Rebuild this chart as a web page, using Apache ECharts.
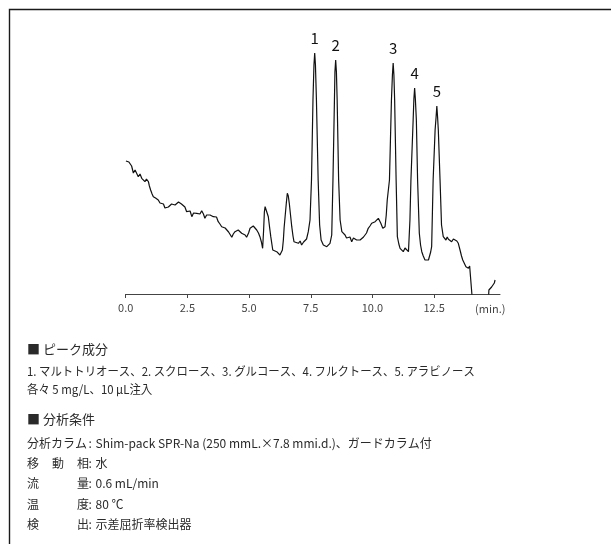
<!DOCTYPE html>
<html>
<head>
<meta charset="utf-8">
<script src="https://cdn.jsdelivr.net/npm/echarts@6/dist/echarts.min.js"></script>
<style>
  html, body { margin: 0; padding: 0; background: #fff; }
  #chart { width: 611px; height: 544px; }
</style>
</head>
<body>
<div id="chart"></div>
<script>
// Retention time (min) of each detector sample
var times = [
  0.01, 0.07, 0.13, 0.17, 0.24, 0.31, 0.38, 0.45, 0.51, 0.58, 0.65, 0.70, 0.78, 0.84, 0.92, 0.96,
  1.01, 1.07, 1.12, 1.21, 1.32, 1.39, 1.46, 1.53, 1.59, 1.66, 1.73, 1.80, 1.86, 1.93, 2.00, 2.07,
  2.14, 2.20, 2.26, 2.33, 2.40, 2.47, 2.55, 2.61, 2.68, 2.75, 2.81, 2.88, 2.95, 3.01, 3.08, 3.15,
  3.21, 3.28, 3.35, 3.42, 3.48, 3.55, 3.62, 3.68, 3.75, 3.82, 3.89, 3.96, 4.03, 4.09, 4.17, 4.23,
  4.30, 4.36, 4.43, 4.50, 4.56, 4.63, 4.70, 4.78, 4.84, 4.90, 4.98, 5.04, 5.10, 5.17, 5.24, 5.31,
  5.38, 5.44, 5.50, 5.55, 5.59, 5.62, 5.65, 5.72, 5.78, 5.83, 5.88, 5.96, 6.03, 6.12, 6.19, 6.25,
  6.32, 6.35, 6.39, 6.42, 6.46, 6.51, 6.55, 6.59, 6.63, 6.68, 6.73, 6.78, 6.82, 6.90, 7.00, 7.07,
  7.13, 7.21, 7.27, 7.33, 7.40, 7.47, 7.53, 7.59, 7.63, 7.66, 7.69, 7.73, 7.80, 7.86, 7.92, 8.01,
  8.08, 8.15, 8.22, 8.28, 8.35, 8.40, 8.46, 8.48, 8.51, 8.54, 8.57, 8.63, 8.69, 8.76, 8.83, 8.89,
  8.95, 9.02, 9.09, 9.16, 9.23, 9.29, 9.36, 9.43, 9.50, 9.57, 9.64, 9.70, 9.76, 9.83, 9.90, 9.97,
  10.04, 10.11, 10.17, 10.24, 10.29, 10.34, 10.42, 10.47, 10.51, 10.56, 10.60, 10.69, 10.77, 10.81, 10.84, 10.87,
  10.90, 10.96, 11.01, 11.07, 11.12, 11.18, 11.25, 11.32, 11.39, 11.46, 11.52, 11.56, 11.65, 11.68, 11.71, 11.74,
  11.78, 11.83, 11.90, 11.95, 12.00, 12.06, 12.13, 12.20, 12.27, 12.31, 12.36, 12.40, 12.46, 12.54, 12.58, 12.61,
  12.64, 12.67, 12.74, 12.80, 12.87, 12.93, 12.98, 13.03, 13.08, 13.15, 13.21, 13.28, 13.35, 13.42, 13.48, 13.55,
  13.61, 13.66, 13.73, 13.79, 13.84, 13.89, 13.94, 13.99, 14.03, 14.06, 14.16, 14.56, 14.70, 14.72, 14.77, 14.83,
  14.90, 14.94, 14.97
];

// RI detector response at each sample (arbitrary units)
var signal = [
  133, 134, 132, 131, 128, 121, 124, 122.3, 117.3, 120, 115.7, 117, 112.3, 115, 112.3, 108,
  104, 100, 97.3, 96, 94, 91, 89, 90, 86, 84.7, 87, 87.3, 90, 91.3, 89, 89.7,
  92, 92.3, 90, 90.7, 87, 82.3, 81, 83, 77.3, 81, 79, 80.7, 82, 80, 83.3, 80,
  75.7, 79, 80.7, 79, 80, 77.3, 76, 77, 72.3, 70, 67.3, 69, 66, 64, 62, 63,
  56.7, 60, 62.3, 61, 64, 62, 60.7, 62, 59, 56.7, 61, 65.7, 64, 68, 67.3, 64,
  61, 57.3, 52, 45.7, 64, 82, 87.3, 89, 77.3, 67, 57.3, 44, 42, 42.3, 41, 39,
  41, 44, 54, 66, 77.3, 91, 100.7, 98, 90.7, 79, 67.3, 58, 52.3, 52, 50.7, 53,
  49, 52, 54, 55, 62.3, 74, 114, 194, 229, 241, 229, 194, 114, 69, 54, 49,
  50, 47.3, 49, 50.7, 59, 114, 194, 222, 234, 222, 194, 114, 74, 62.3, 61, 59,
  56, 54, 57, 52.3, 56, 55.7, 54, 52.3, 54, 54, 57, 57.3, 61, 65.7, 68, 70.7,
  72, 72.3, 74, 75.7, 76, 70.7, 65.7, 67, 67.3, 79, 94, 114, 194, 219, 231, 219,
  194, 114, 57.3, 50, 45.7, 44, 42.3, 46, 44, 42.3, 74, 114, 174, 195, 206, 195,
  174, 114, 60.7, 49, 42.3, 38, 34, 35, 34, 36, 42, 47.3, 114, 164, 177, 188,
  177, 164, 114, 69, 57.3, 56, 54, 57, 54.7, 56, 52.3, 55, 54, 53, 50.7, 44,
  38, 34, 32, 27.3, 29, 25.7, 28, 27.3, 0, -26, -40, -40, -6, 4, 5.7, 7,
  9, 11, 14
];

// Peak numbering and the retention time of each numbered peak
var peakNumbers = ['1', '2', '3', '4', '5'];
var peakTimes = [7.66, 8.51, 10.84, 11.71, 12.61];

// Time axis tick values and their labels
var tickValues = [0, 2.5, 5, 7.5, 10, 12.5];
var tickLabels = ['0.0', '2.5', '5.0', '7.5', '10.0', '12.5'];

// Text block below the chromatogram
var peakHeading = '■ ピーク成分';
var peakLines = [
  '1. マルトトリオース、2. スクロース、3. グルコース、4. フルクトース、5. アラビノース',
  '各々 5 mg/L、10 µL注入'
];
var condHeading = '■ 分析条件';
var condLabels = [['分析カラム'], ['移', '動', '相'], ['流', '量'], ['温', '度'], ['検', '出']];
var condValues = [
  'Shim-pack SPR-Na (250 mmL.×7.8 mmi.d.)、ガードカラム付',
  '水',
  '0.6 mL/min',
  '80 ℃',
  '示差屈折率検出器'
];

var FONT = '"Noto Sans CJK JP", "Noto Sans", sans-serif';
var TEXT_COLOR = '#2a2a2a';

// Line data; numbered peaks carry their label
var seriesData = times.map(function (t, i) {
  var k = peakTimes.indexOf(t);
  if (k < 0) return [t, signal[i]];
  return {
    value: [t, signal[i]],
    label: {
      show: true,
      formatter: peakNumbers[k],
      position: 'top',
      distance: 7,
      fontSize: 15,
      fontFamily: FONT,
      color: '#111'
    }
  };
});

// Frame rules and text elements for the notes
var graphics = [];
graphics.push({
  type: 'polyline',
  shape: { points: [[9.5, 544], [9.5, 9.5], [611, 9.5]] },
  style: { stroke: '#1a1a1a', lineWidth: 1.4, fill: null }
});

function addText(str, x, y, size, sx) {
  graphics.push({
    type: 'text',
    x: x,
    y: y,
    scaleX: sx || 1,
    style: {
      text: str,
      font: size + 'px ' + FONT,
      fill: TEXT_COLOR,
      verticalAlign: 'middle',
      align: 'left'
    }
  });
}

var leftX = 27;
addText(peakHeading, leftX, 349, 13);
peakLines.forEach(function (s, i) { addText(s, leftX, 371.5 + i * 18, 12, 0.95); });
addText(condHeading, leftX, 419, 13);

var rowY = [443.5, 463, 483.5, 504, 524];
condLabels.forEach(function (chars, r) {
  var y = rowY[r];
  if (chars.length === 1) {
    addText(chars[0], leftX, y, 12);
  } else {
    var span = 50;
    chars.forEach(function (c, j) {
      addText(c, leftX + j * span / (chars.length - 1), y, 12);
    });
  }
  addText(':', 88.5, y, 12);
  addText(condValues[r], 95.5, y, 12);
});

var chart = echarts.init(document.getElementById('chart'), null, { renderer: 'canvas' });
chart.setOption({
  animation: false,
  backgroundColor: '#fff',
  grid: { left: 125.7, right: 111, top: 44, bottom: 250, containLabel: false },
  xAxis: {
    type: 'value',
    min: 0,
    max: 15.17,
    name: '(min.)',
    nameLocation: 'end',
    nameGap: -25,
    nameTextStyle: {
      fontFamily: FONT,
      fontSize: 11,
      color: '#444',
      verticalAlign: 'top',
      padding: [9, 0, 0, 0]
    },
    axisLine: { show: true, onZero: false, lineStyle: { color: '#444', width: 1 } },
    axisTick: {
      show: true,
      length: 4,
      customValues: tickValues,
      lineStyle: { color: '#444', width: 1 }
    },
    axisLabel: {
      customValues: tickValues,
      formatter: function (v) {
        var k = tickValues.indexOf(v);
        return k < 0 ? '' : tickLabels[k];
      },
      margin: 8,
      fontFamily: FONT,
      fontSize: 11,
      color: '#444'
    },
    splitLine: { show: false }
  },
  yAxis: {
    type: 'value',
    min: 0,
    max: 250,
    show: false,
    splitLine: { show: false }
  },
  series: [{
    type: 'line',
    data: seriesData,
    showSymbol: true,
    symbol: 'circle',
    symbolSize: 0,
    clip: true,
    silent: true,
    lineStyle: { color: '#111', width: 1.2 },
    itemStyle: { color: '#111' },
    z: 3
  }],
  graphic: graphics
});
</script>
</body>
</html>
